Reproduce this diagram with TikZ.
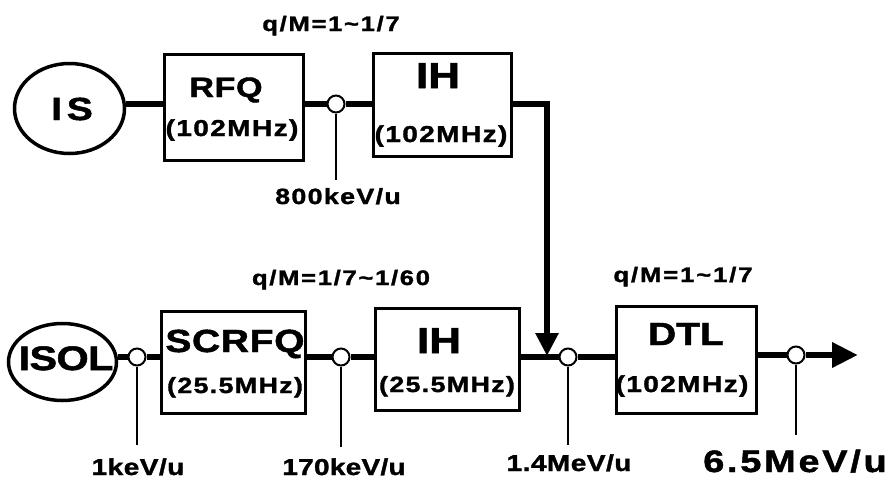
\documentclass[tikz,border=0pt]{standalone}
\usepackage{fontspec}
\usetikzlibrary{shapes.geometric,arrows.meta}
\newfontfamily\hvfont{Liberation Sans}[FakeStretch=1.22,FakeBold=1.5]
\newcommand\hvsize[2]{\hvfont\bfseries\fontsize{#1pt}{#1pt}\selectfont\addfontfeatures{LetterSpace=#2}}
\newcommand\tld{{\char"7E}}
\begin{document}
\begin{tikzpicture}[x=1pt,y=-1pt,
  box/.style={draw,line width=3.5pt,inner sep=0pt},
  src/.style={ellipse,draw,line width=3.5pt,inner sep=0pt},
  beam/.style={line width=6.5pt},
  ring/.style={circle,draw,fill=white,line width=2pt,minimum size=17pt,inner sep=0pt},
  tick/.style={line width=1.5pt},
  txt/.style={inner sep=0pt,anchor=base}]
\fill[white] (0,0) rectangle (894,480);
\useasboundingbox (0,0) rectangle (894,480);

% top row
\node[src,minimum width=110pt,minimum height=90pt] (is) at (69.5,108.5) {};
\node[box,minimum width=139pt,minimum height=106pt] (rfq) at (234,107.5) {};
\node[box,minimum width=138pt,minimum height=103pt] (ih1) at (442.5,105) {};
\node[ring] (c0) at (336,104) {};

% bottom row
\node[src,minimum width=108pt,minimum height=77pt] (isol) at (62.5,362) {};
\node[box,minimum width=144pt,minimum height=102pt] (scrfq) at (233.5,362.5) {};
\node[box,minimum width=144pt,minimum height=102pt] (ih2) at (447.5,359.5) {};
\node[box,minimum width=140pt,minimum height=107pt] (dtl) at (686.5,360) {};
\node[ring] (c1) at (137,357) {};
\node[ring] (c2) at (341,357) {};
\node[ring] (c3) at (568,357) {};
\node[ring] (c4) at (796,355) {};
\coordinate (jn) at (547,356);
\coordinate (out) at (858,355);

% texts
\node[txt,font=\hvsize{21}{8}] (qm1) at (331,31) {q/M=1\tld1/7};
\node[txt,font=\hvsize{21}{8}] (qm2) at (341,285) {q/M=1/7\tld1/60};
\node[txt,font=\hvsize{21}{9}] (qm3) at (683,282) {q/M=1\tld1/7};

\node[txt,font=\hvsize{32}{15}] (tis) at (72,120) {IS};
\node[txt,font=\hvsize{28}{2}] (trfq) at (226,97) {RFQ};
\node[txt,font=\hvsize{23}{6}] (frfq) at (232,136) {(102MHz)};
\node[txt,font=\hvsize{36}{0}] (tih1) at (438,88) {IH};
\node[txt,font=\hvsize{23}{6}] (fih1) at (441,142) {(102MHz)};

\node[txt,font=\hvsize{34}{-2}] (tisol) at (66,370) {ISOL};
\node[txt,font=\hvsize{32}{2}] (tscrfq) at (235,352) {SCRFQ};
\node[txt,font=\hvsize{22}{6}] (fscrfq) at (235,393) {(25.5MHz)};
\node[txt,font=\hvsize{36}{0}] (tih2) at (439,353) {IH};
\node[txt,font=\hvsize{22}{6}] (fih2) at (447,392) {(25.5MHz)};
\node[txt,font=\hvsize{32}{0}] (tdtl) at (686,345) {DTL};
\node[txt,font=\hvsize{23}{6}] (fdtl) at (682,392) {(102MHz)};

\node[txt,font=\hvsize{22}{6}] (l0) at (338,204) {800keV/u};
\node[txt,font=\hvsize{23}{2}] (l1) at (138,475) {1keV/u};
\node[txt,font=\hvsize{23}{1}] (l2) at (344,475) {170keV/u};
\node[txt,font=\hvsize{23}{2}] (l3) at (569,471) {1.4MeV/u};
\node[txt,font=\hvsize{31}{9}] (l4) at (795,472) {6.5MeV/u};

\coordinate (t0) at (336,180);
\coordinate (t1) at (137,445);
\coordinate (t2) at (341,447);
\coordinate (t3) at (568,445);
\coordinate (t4) at (796,435);

% beam lines
\draw[beam] (is.east |- c0) -- (rfq.west |- c0);
\draw[beam] (rfq.east |- c0) -- (c0);
\draw[beam] (c0) -- (ih1.west |- c0);
\draw[beam,-{Triangle[length=23pt,width=22pt]}] (ih1.east |- c0) -| (jn);

\draw[beam] (isol.east |- c1) -- (c1);
\draw[beam] (c1) -- (scrfq.west |- c1);
\draw[beam] (scrfq.east |- c2) -- (c2);
\draw[beam] (c2) -- (ih2.west |- c2);
\draw[beam] (ih2.east |- c3) -- (c3);
\draw[beam] (c3) -- (dtl.west |- c3);
\draw[beam] (dtl.east |- c4) -- (c4);
\draw[beam,-{Triangle[length=26pt,width=24pt]}] (c4) -- (out);

% ticks
\draw[tick] (c0) -- (t0);
\draw[tick] (c1) -- (t1);
\draw[tick] (c2) -- (t2);
\draw[tick] (c3) -- (t3);
\draw[tick] (c4) -- (t4);
\end{tikzpicture}
\end{document}
